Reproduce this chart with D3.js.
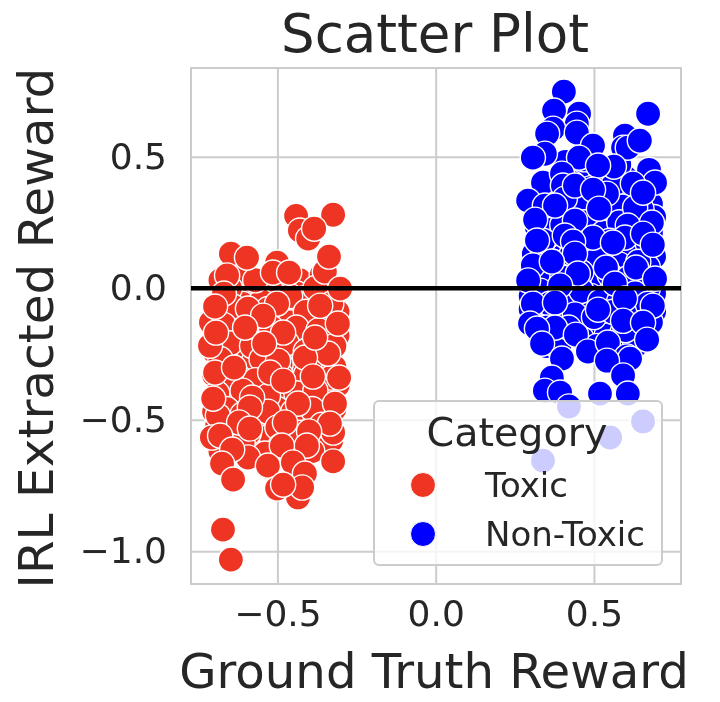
<!DOCTYPE html>
<html>
<head>
<meta charset="utf-8">
<script src="https://cdn.jsdelivr.net/npm/d3@7"></script>
<style>
  html, body { margin: 0; padding: 0; background: #fff; }
  svg { display: block; font-family: "DejaVu Sans", sans-serif; filter: blur(0.6px); }
</style>
</head>
<body>
<div id="app"></div>
<script>
// values: [ground truth, irl reward], drawn in this order
const toxic_under = [
  [-0.68,0.03],[-0.61,0.05],[-0.55,0.02],[-0.49,0.04],[-0.43,0.03],[-0.36,0.05],[-0.33,0.01],
  [-0.64,-0.02],[-0.58,-0.03],[-0.52,-0.01],[-0.44,-0.02],[-0.39,-0.03],[-0.34,-0.02],
  [-0.68,-0.05],[-0.61,-0.06],[-0.55,-0.05],[-0.47,-0.06],[-0.42,-0.04],[-0.35,-0.07],
  [-0.66,-0.10],[-0.62,-0.11],[-0.50,-0.09],[-0.44,-0.10],[-0.37,-0.11],[-0.31,-0.09],
  [-0.71,-0.13],[-0.57,-0.14],[-0.46,-0.13],[-0.40,-0.15],[-0.34,-0.12],
  [-0.68,-0.19],[-0.63,-0.18],[-0.56,-0.20],[-0.49,-0.19],[-0.43,-0.17],[-0.36,-0.20],[-0.31,-0.18],
  [-0.70,-0.24],[-0.60,-0.23],[-0.52,-0.25],[-0.45,-0.24],[-0.39,-0.22],[-0.33,-0.25],
  [-0.66,-0.28],[-0.58,-0.29],[-0.47,-0.27],[-0.42,-0.29],[-0.35,-0.28],
  [-0.70,-0.33],[-0.62,-0.34],[-0.54,-0.32],[-0.45,-0.33],[-0.37,-0.35],
  [-0.66,-0.38],[-0.58,-0.39],[-0.50,-0.37],[-0.41,-0.38],[-0.33,-0.39],[-0.31,-0.37],
  [-0.63,-0.43],[-0.55,-0.44],[-0.47,-0.42],[-0.37,-0.43],
  [-0.70,-0.47],[-0.58,-0.48],[-0.50,-0.46],[-0.42,-0.47],[-0.35,-0.48],[-0.32,-0.46],
  [-0.69,-0.52],[-0.56,-0.53],[-0.46,-0.51],[-0.40,-0.52],
  [-0.71,-0.57],[-0.65,-0.58],[-0.52,-0.56],[-0.37,-0.57],[-0.33,-0.58],
  [-0.68,-0.62],[-0.56,-0.63],[-0.47,-0.61],[-0.39,-0.62],
  [-0.53,-0.68],[-0.44,-0.69],
  [-0.65,0.00],[-0.57,0.03],[-0.46,-0.03],[-0.38,0.00],[-0.64,-0.07],[-0.53,-0.08],[-0.41,-0.09],[-0.33,-0.06],
  [-0.67,-0.14],[-0.60,-0.16],[-0.52,-0.15],[-0.44,-0.15],[-0.37,-0.16],[-0.65,-0.21],[-0.58,-0.22],[-0.47,-0.21],
  [-0.41,-0.24],[-0.32,-0.22],[-0.68,-0.27],[-0.55,-0.27],[-0.49,-0.29],[-0.38,-0.29],[-0.32,-0.30],[-0.65,-0.34],
  [-0.57,-0.35],[-0.49,-0.33],[-0.41,-0.33],[-0.33,-0.34],[-0.69,-0.40],[-0.61,-0.39],[-0.53,-0.41],[-0.44,-0.40],
  [-0.38,-0.39],[-0.66,-0.46],[-0.61,-0.48],[-0.53,-0.47],[-0.45,-0.47],[-0.39,-0.46],[-0.66,-0.53],[-0.59,-0.55],
  [-0.50,-0.53],[-0.43,-0.55],[-0.36,-0.52],[-0.61,-0.59],[-0.49,-0.60],[-0.44,-0.57]
]
const toxic_top = [
  [-0.441,0.275],[-0.324,0.279],[-0.429,0.219],[-0.403,0.188],[-0.384,0.226],
  [-0.647,0.131],[-0.596,0.116],[-0.501,0.097],[-0.659,0.048],[-0.514,0.059],[-0.463,0.059],
  [-0.350,0.063],[-0.337,0.120],[-0.302,-0.002],[-0.669,-0.021],
  [-0.697,-0.070],[-0.593,-0.078],[-0.501,-0.059],[-0.365,-0.067],[-0.545,-0.105],
  [-0.602,-0.150],[-0.482,-0.169],[-0.713,-0.219],[-0.340,-0.249],[-0.498,-0.276],[-0.413,-0.264],
  [-0.694,-0.169],[-0.309,-0.135],[-0.381,-0.188],[-0.542,-0.211],
  [-0.697,-0.321],[-0.523,-0.321],[-0.637,-0.302],[-0.482,-0.352],[-0.388,-0.336],[-0.305,-0.340],
  [-0.435,-0.439],[-0.580,-0.416],[-0.318,-0.439],[-0.587,-0.454],[-0.688,-0.485],[-0.621,-0.511],
  [-0.707,-0.568],[-0.681,-0.561],[-0.324,-0.549],[-0.334,-0.515],[-0.400,-0.545],[-0.587,-0.534],
  [-0.476,-0.511],[-0.703,-0.420],[-0.539,-0.629],[-0.407,-0.599],[-0.593,-0.644],[-0.486,-0.599],
  [-0.643,-0.614],[-0.530,-0.675],[-0.675,-0.667],[-0.451,-0.663],[-0.413,-0.705],[-0.640,-0.728],
  [-0.435,-0.796],[-0.422,-0.758],[-0.501,-0.762],[-0.482,-0.747],[-0.324,-0.659],
  [-0.672,-0.918],[-0.647,-1.032]
]
const nontoxic_under = [
  [0.39,0.42],[0.46,0.43],[0.52,0.41],[0.60,0.42],[0.41,0.48],[0.47,0.49],[0.58,0.47],
  [0.36,0.33],[0.44,0.34],[0.49,0.32],[0.56,0.33],[0.62,0.34],[0.68,0.32],
  [0.32,0.28],[0.37,0.29],[0.42,0.27],[0.48,0.28],[0.54,0.29],[0.60,0.27],[0.66,0.28],[0.69,0.27],
  [0.32,0.23],[0.36,0.22],[0.45,0.23],[0.50,0.24],[0.56,0.22],[0.62,0.23],[0.68,0.21],
  [0.31,0.13],[0.34,0.14],[0.40,0.12],[0.47,0.13],[0.53,0.14],[0.59,0.12],[0.65,0.13],[0.69,0.12],
  [0.31,0.08],[0.38,0.07],[0.44,0.09],[0.50,0.08],[0.57,0.07],[0.62,0.09],[0.67,0.08],
  [0.30,0.02],[0.35,0.03],[0.41,0.01],[0.47,0.02],[0.53,0.03],[0.58,0.01],[0.65,0.02],[0.69,0.03],
  [0.30,-0.03],[0.37,-0.02],[0.43,-0.04],[0.49,-0.03],[0.55,-0.02],[0.61,-0.04],[0.66,-0.03],[0.69,-0.02],
  [0.30,-0.08],[0.34,-0.09],[0.41,-0.07],[0.47,-0.08],[0.52,-0.09],[0.59,-0.07],[0.64,-0.08],[0.69,-0.09],
  [0.31,-0.13],[0.37,-0.12],[0.44,-0.14],[0.51,-0.13],[0.57,-0.12],[0.62,-0.14],[0.68,-0.13],
  [0.33,-0.18],[0.40,-0.17],[0.46,-0.19],[0.54,-0.18],[0.59,-0.17],[0.65,-0.19],
  [0.35,-0.22],[0.39,-0.23],[0.51,-0.22],[0.57,-0.23],[0.63,-0.22],
  [0.43,0.40],[0.49,0.38],[0.56,0.39],[0.40,0.36],[0.46,0.31],[0.52,0.34],[0.59,0.31],[0.65,0.30],
  [0.34,0.26],[0.40,0.24],[0.47,0.25],[0.53,0.21],[0.58,0.25],[0.64,0.20],[0.34,0.18],[0.42,0.19],
  [0.48,0.17],[0.55,0.18],[0.62,0.16],[0.67,0.17],[0.37,0.10],[0.43,0.13],[0.51,0.11],[0.58,0.09],
  [0.64,0.10],[0.33,0.05],[0.40,0.04],[0.46,0.06],[0.55,0.05],[0.61,0.04],[0.67,0.00],[0.33,-0.01],
  [0.40,-0.03],[0.46,-0.01],[0.52,-0.05],[0.58,-0.05],[0.63,-0.02],[0.36,-0.06],[0.44,-0.10],[0.50,-0.11],
  [0.56,-0.09],[0.62,-0.10],[0.67,-0.06],[0.35,-0.15],[0.42,-0.15],[0.60,-0.16]
]
const nontoxic_top = [
  [0.453,0.663],[0.446,0.625],[0.405,0.747],[0.374,0.675],[0.371,0.606],[0.352,0.587],
  [0.446,0.591],[0.671,0.663],[0.497,0.542],[0.453,0.496],[0.598,0.580],[0.592,0.534],
  [0.607,0.534],[0.645,0.561],[0.345,0.511],[0.307,0.496],[0.563,0.462],[0.513,0.466],
  [0.674,0.450],[0.693,0.401],[0.339,0.401],[0.399,0.435],[0.623,0.397],[0.402,0.390],
  [0.408,0.340],[0.541,0.359],[0.292,0.333],[0.345,0.314],[0.377,0.314],[0.440,0.390],
  [0.497,0.374],[0.516,0.302],[0.630,0.306],[0.655,0.363],[0.314,0.260],[0.440,0.257],
  [0.683,0.249],[0.607,0.238],[0.408,0.200],[0.497,0.192],[0.598,0.192],[0.655,0.207],
  [0.320,0.181],[0.434,0.177],[0.560,0.173],[0.686,0.165],[0.440,0.131],[0.307,0.086],
  [0.367,0.101],[0.449,0.055],[0.538,0.078],[0.633,0.078],[0.693,0.036],[0.292,0.029],
  [0.566,0.017],[0.393,0.010],[0.307,-0.059],[0.377,-0.055],[0.598,-0.040],[0.686,-0.067],
  [0.513,-0.082],[0.298,-0.135],[0.377,-0.150],[0.592,-0.124],[0.320,-0.154],[0.655,-0.131],
  [0.443,-0.177],[0.481,-0.241],[0.336,-0.211],[0.668,-0.196],[0.544,-0.207],[0.399,-0.268],
  [0.604,-0.260],[0.614,-0.268],[0.541,-0.276],[0.367,-0.340],[0.592,-0.332],[0.345,-0.390],
  [0.393,-0.397],[0.519,-0.401],[0.607,-0.401],[0.421,-0.450],[0.655,-0.507],[0.551,-0.568],
  [0.339,-0.656]
]
const toxic_data = toxic_under.concat(toxic_top)
const nontoxic_data = nontoxic_under.concat(nontoxic_top)

const x_ticks = [-0.5, 0, 0.5]
const y_ticks = [-1, -0.5, 0, 0.5]
const x_domain = [-0.773, 0.775]
const y_domain = [-1.125, 0.837]
const legend_items = ['Toxic', 'Non-Toxic']
const colors = { 'Toxic': '#ee3524', 'Non-Toxic': '#0000ff' }

const width = 720
const height = 702
const plot = { left: 191, right: 681, top: 68, bottom: 584 }
const ink = '#262626'
const grid_color = '#cccccc'
const font = '"DejaVu Sans", sans-serif'

const svg = d3.select('#app').append('svg')
  .attr('width', width)
  .attr('height', height)
  .attr('viewBox', [0, 0, width, height])

const x_scale = d3.scaleLinear().domain(x_domain).range([plot.left, plot.right])
const y_scale = d3.scaleLinear().domain(y_domain).range([plot.bottom, plot.top])
const tick_format = (d) => d3.format('.1f')(d).replace('-', '\u2212')

// axes double as the grid
const x_axis = svg.append('g')
  .attr('transform', `translate(0,${plot.bottom})`)
  .call(d3.axisBottom(x_scale).tickValues(x_ticks).tickFormat(tick_format)
    .tickSize(-(plot.bottom - plot.top)).tickPadding(16))
const y_axis = svg.append('g')
  .attr('transform', `translate(${plot.left},0)`)
  .call(d3.axisLeft(y_scale).tickValues(y_ticks).tickFormat(tick_format)
    .tickSize(-(plot.right - plot.left)).tickPadding(24))

for (const axis of [x_axis, y_axis]) {
  axis.attr('font-family', font)
  axis.select('.domain').remove()
  axis.selectAll('line').attr('stroke', grid_color).attr('stroke-width', 2)
  axis.selectAll('text').attr('fill', ink).style('font-size', '36px')
}

svg.append('rect')
  .attr('x', plot.left)
  .attr('y', plot.top)
  .attr('width', plot.right - plot.left)
  .attr('height', plot.bottom - plot.top)
  .attr('fill', 'none')
  .attr('stroke', grid_color)
  .attr('stroke-width', 2)

const draw_points = (data, name) => {
  svg.append('g').selectAll('circle').data(data).join('circle')
    .attr('cx', (d) => x_scale(d[0]))
    .attr('cy', (d) => y_scale(d[1]))
    .attr('r', 12.6)
    .attr('fill', colors[name])
    .attr('stroke', '#fff')
    .attr('stroke-width', 1.4)
}
draw_points(toxic_data, 'Toxic')
draw_points(nontoxic_data, 'Non-Toxic')

// zero line
svg.append('line')
  .attr('x1', plot.left)
  .attr('x2', plot.right)
  .attr('y1', y_scale(0))
  .attr('y2', y_scale(0))
  .attr('stroke', '#000')
  .attr('stroke-width', 4.5)

// legend
const legend = svg.append('g').attr('transform', 'translate(374,401)')
legend.append('rect')
  .attr('width', 288)
  .attr('height', 164)
  .attr('rx', 5)
  .attr('fill', '#fff')
  .attr('fill-opacity', 0.8)
  .attr('stroke', grid_color)
  .attr('stroke-width', 2)
legend.append('text')
  .attr('x', 143)
  .attr('y', 45)
  .attr('text-anchor', 'middle')
  .attr('fill', ink)
  .style('font-size', '39.6px')
  .text('Category')
const rows = legend.selectAll('g.row').data(legend_items).join('g')
  .attr('class', 'row')
  .attr('transform', (d, i) => `translate(0,${84 + i * 49})`)
rows.append('circle')
  .attr('cx', 49)
  .attr('r', 12.5)
  .attr('fill', (d) => colors[d])
  .attr('stroke', '#fff')
  .attr('stroke-width', 1)
rows.append('text')
  .attr('x', 111)
  .attr('y', 12)
  .attr('fill', ink)
  .style('font-size', '34px')
  .text((d) => d)

// title and axis labels
svg.append('text')
  .attr('x', 435)
  .attr('y', 52)
  .attr('text-anchor', 'middle')
  .attr('fill', ink)
  .style('font-size', '53px')
  .text('Scatter Plot')
svg.append('text')
  .attr('x', 434)
  .attr('y', 688)
  .attr('text-anchor', 'middle')
  .attr('fill', ink)
  .style('font-size', '48.2px')
  .text('Ground Truth Reward')
svg.append('text')
  .attr('transform', 'translate(53,328) rotate(-90)')
  .attr('text-anchor', 'middle')
  .attr('fill', ink)
  .style('font-size', '48.5px')
  .text('IRL Extracted Reward')
</script>
</body>
</html>
